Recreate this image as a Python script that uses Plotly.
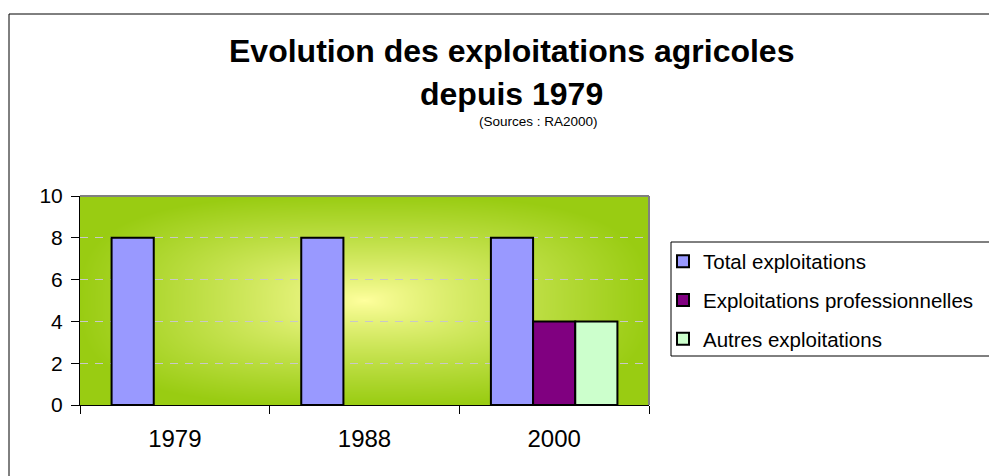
import base64
import struct
import zlib

import numpy as np
import plotly.graph_objects as go

# ---------------- data ----------------
years = ["1979", "1988", "2000"]
total_exploitations = [8, 8, 8]
exploitations_professionnelles = [0, 0, 4]
autres_exploitations = [0, 0, 4]
series_names = ["Total exploitations", "Exploitations professionnelles", "Autres exploitations"]
series_colors = ["#9999FF", "#800080", "#CCFFCC"]
y_ticks = [0, 2, 4, 6, 8, 10]

title_line1 = "Evolution des exploitations agricoles"
title_line2 = "depuis 1979"
subtitle = "(Sources : RA2000)"

# ---------------- geometry (pixels) ----------------
FIG_W, FIG_H = 989, 476
PL, PR, PT, PB = 80, 649, 196, 405  # plot area
PW, PH = PR - PL, PB - PT


def px_x(x):
    return (x - PL) / PW


def px_y(y):
    return (PB - y) / PH


# ---------------- gradient background (plot area) ----------------
def gradient_png(w, h):
    yy, xx = np.mgrid[0:h, 0:w]
    dx = np.abs((xx + 0.5) / w - 0.5) * 2
    dy = np.abs((yy + 0.5) / h - 0.5) * 2
    p = 3.0
    t = np.clip((dx ** p + dy ** p) ** (1 / p), 0, 1) ** 0.85
    c0 = np.array([255, 255, 158], dtype=float)
    c1 = np.array([153, 204, 18], dtype=float)
    img = (c0 + (c1 - c0) * t[..., None]).round().astype(np.uint8)
    raw = b"".join(b"\x00" + img[r].tobytes() for r in range(h))

    def chunk(tag, data):
        c = struct.pack(">I", len(data)) + tag + data
        return c + struct.pack(">I", zlib.crc32(tag + data) & 0xFFFFFFFF)

    png = b"\x89PNG\r\n\x1a\n"
    png += chunk(b"IHDR", struct.pack(">IIBBBBB", w, h, 8, 2, 0, 0, 0))
    png += chunk(b"IDAT", zlib.compress(raw, 9))
    png += chunk(b"IEND", b"")
    return "data:image/png;base64," + base64.b64encode(png).decode()


FONT = "Arial, 'Liberation Sans', sans-serif"

fig = go.Figure()
series_values = [total_exploitations, exploitations_professionnelles, autres_exploitations]
for i, (name, vals, col) in enumerate(zip(series_names, series_values, series_colors)):
    fig.add_trace(
        go.Bar(
            x=years,
            # zero values are not drawn (no flat outline on the axis)
            y=[v if v else None for v in vals],
            name=name,
            legendgroup=f"g{i}",
            marker=dict(color=col, line=dict(color="black", width=2)),
        )
    )

shapes = [
    # outer chart border (extends past the window on right/bottom)
    dict(type="rect", xref="paper", yref="paper",
         x0=px_x(9), x1=px_x(1005), y0=px_y(490), y1=px_y(14),
         line=dict(color="black", width=1), fillcolor="rgba(0,0,0,0)", layer="below"),
    # plot area grey border (top and right)
    dict(type="line", xref="paper", yref="paper", x0=0, x1=1, y0=1, y1=1,
         line=dict(color="#808080", width=2), layer="above"),
    dict(type="line", xref="paper", yref="paper", x0=1, x1=1, y0=0, y1=1,
         line=dict(color="#808080", width=2), layer="above"),
    # legend box
    dict(type="rect", xref="paper", yref="paper",
         x0=px_x(671), x1=px_x(1005), y0=px_y(356), y1=px_y(242),
         line=dict(color="black", width=1), fillcolor="white", layer="below"),
]

annotations = [
    dict(text=f"<b>{title_line1}</b>", x=px_x(511), y=px_y(51), xref="paper", yref="paper",
         xanchor="center", yanchor="middle", showarrow=False,
         font=dict(family=FONT, size=32, color="black")),
    dict(text=f"<b>{title_line2}</b>", x=px_x(511), y=px_y(94), xref="paper", yref="paper",
         xanchor="center", yanchor="middle", showarrow=False,
         font=dict(family=FONT, size=32, color="black")),
    dict(text=subtitle, x=px_x(538), y=px_y(121), xref="paper", yref="paper",
         xanchor="center", yanchor="middle", showarrow=False,
         font=dict(family=FONT, size=13.5, color="black")),
]

fig.update_layout(
    width=FIG_W,
    height=FIG_H,
    margin=dict(l=PL, r=FIG_W - PR, t=PT, b=FIG_H - PB, pad=0, autoexpand=False),
    paper_bgcolor="white",
    plot_bgcolor="rgba(0,0,0,0)",
    barmode="group",
    bargap=0.333,
    bargroupgap=0,
    font=dict(family=FONT, color="black"),
    showlegend=True,
    legend=dict(
        x=px_x(663), y=px_y(241.5), xanchor="left", yanchor="top",
        bgcolor="rgba(0,0,0,0)", borderwidth=0,
        font=dict(family=FONT, size=20.5, color="black"),
        tracegroupgap=9, itemclick=False, itemdoubleclick=False,
    ),
    images=[dict(source=gradient_png(PW, PH), xref="paper", yref="paper",
                 x=0, y=1, sizex=1, sizey=1, sizing="stretch", layer="below")],
    shapes=shapes,
    annotations=annotations,
    xaxis=dict(
        type="category",
        showline=True, linecolor="black", linewidth=1,
        ticks="outside", tickson="boundaries", ticklen=8, tickcolor="black", tickwidth=1,
        tickfont=dict(family=FONT, size=24, color="black"),
        ticklabelstandoff=12,
        showgrid=False, zeroline=False, fixedrange=True,
    ),
    yaxis=dict(
        range=[0, 10],
        tickvals=y_ticks,
        showline=True, linecolor="black", linewidth=1,
        ticks="outside", ticklen=8, tickcolor="black", tickwidth=1,
        tickfont=dict(family=FONT, size=21, color="black"),
        ticklabelstandoff=4,
        showgrid=True, gridcolor="#C8C8C8", gridwidth=1, griddash="8px,7px",
        zeroline=False, fixedrange=True,
    ),
)

fig.write_html("out.html", config={"displayModeBar": False},
               post_script="document.body.style.margin='0';")
